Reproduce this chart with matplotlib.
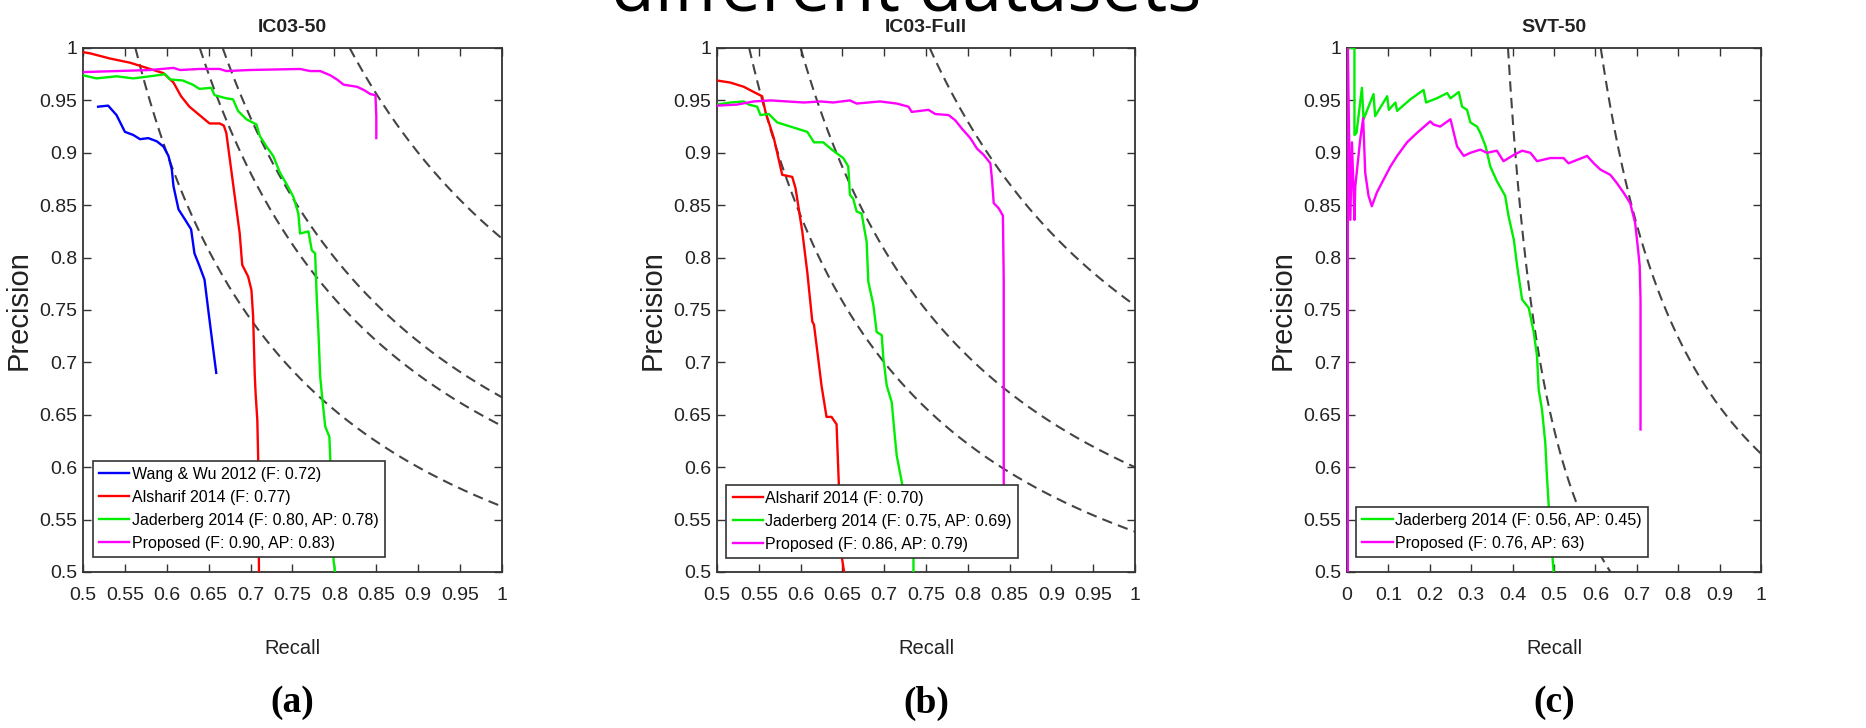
import numpy as np
import matplotlib.pyplot as plt
from matplotlib.ticker import FuncFormatter

plt.rcParams['font.family'] = ['Liberation Sans', 'DejaVu Sans']

# IC03-50
wang_r = [0.518, 0.530, 0.540, 0.550, 0.560, 0.568, 0.578, 0.588, 0.596, 0.602, 0.606,
          0.608, 0.614, 0.622, 0.629, 0.633, 0.639, 0.645, 0.649, 0.655, 0.659]
wang_p = [0.944, 0.945, 0.936, 0.920, 0.917, 0.913, 0.914, 0.911, 0.906, 0.897, 0.884,
          0.868, 0.846, 0.836, 0.827, 0.804, 0.792, 0.779, 0.753, 0.715, 0.690]
alsh_a_r = [0.500, 0.508, 0.532, 0.556, 0.576, 0.596, 0.608, 0.617, 0.627, 0.639, 0.651, 0.663,
            0.668, 0.671, 0.679, 0.687, 0.690, 0.697, 0.701, 0.703, 0.705, 0.706, 0.708, 0.709, 0.710]
alsh_a_p = [0.996, 0.995, 0.990, 0.986, 0.981, 0.976, 0.967, 0.954, 0.944, 0.936, 0.928, 0.928,
            0.926, 0.919, 0.871, 0.823, 0.793, 0.782, 0.769, 0.744, 0.687, 0.670, 0.645, 0.610, 0.499]
jad_a_r = [0.500, 0.516, 0.540, 0.560, 0.580, 0.598, 0.604, 0.619, 0.631, 0.639, 0.653, 0.657,
           0.671, 0.679, 0.685, 0.695, 0.707, 0.711, 0.719, 0.727, 0.735, 0.743, 0.751, 0.757,
           0.759, 0.769, 0.773, 0.777, 0.779, 0.781, 0.783, 0.785, 0.789, 0.794, 0.795, 0.799, 0.801]
jad_a_p = [0.974, 0.971, 0.973, 0.971, 0.973, 0.975, 0.970, 0.969, 0.965, 0.961, 0.962, 0.955,
           0.952, 0.951, 0.940, 0.932, 0.927, 0.916, 0.906, 0.897, 0.881, 0.870, 0.858, 0.842,
           0.823, 0.825, 0.807, 0.804, 0.760, 0.728, 0.687, 0.670, 0.639, 0.629, 0.610, 0.511, 0.499]
prop_a_r = [0.500, 0.540, 0.580, 0.608, 0.616, 0.639, 0.663, 0.671, 0.699, 0.759, 0.771,
            0.783, 0.795, 0.803, 0.811, 0.827, 0.835, 0.843, 0.849, 0.850, 0.850]
prop_a_p = [0.977, 0.978, 0.979, 0.981, 0.979, 0.980, 0.980, 0.978, 0.979, 0.980, 0.978,
            0.978, 0.974, 0.970, 0.965, 0.963, 0.960, 0.956, 0.955, 0.935, 0.914]
iso_a = [0.72, 0.78, 0.80, 0.90]

# IC03-Full
alsh_b_r = [0.500, 0.516, 0.532, 0.544, 0.554, 0.558, 0.568, 0.578, 0.590, 0.594, 0.602,
            0.608, 0.614, 0.616, 0.621, 0.625, 0.631, 0.637, 0.643, 0.645, 0.649, 0.652]
alsh_b_p = [0.969, 0.967, 0.963, 0.958, 0.954, 0.939, 0.914, 0.879, 0.877, 0.866, 0.825,
            0.786, 0.739, 0.736, 0.704, 0.678, 0.648, 0.648, 0.641, 0.599, 0.516, 0.500]
jad_b_r = [0.500, 0.516, 0.532, 0.538, 0.548, 0.552, 0.562, 0.572, 0.584, 0.596, 0.608,
           0.616, 0.627, 0.639, 0.651, 0.657, 0.659, 0.663, 0.667, 0.673, 0.679, 0.681,
           0.687, 0.691, 0.697, 0.699, 0.703, 0.709, 0.713, 0.715, 0.721, 0.735, 0.735]
jad_b_p = [0.946, 0.948, 0.949, 0.946, 0.944, 0.936, 0.937, 0.929, 0.926, 0.923, 0.920,
           0.910, 0.910, 0.902, 0.895, 0.887, 0.860, 0.856, 0.844, 0.842, 0.815, 0.777,
           0.755, 0.729, 0.726, 0.704, 0.678, 0.662, 0.627, 0.611, 0.586, 0.513, 0.500]
prop_b_r = [0.500, 0.524, 0.544, 0.564, 0.584, 0.604, 0.624, 0.639, 0.659, 0.667, 0.695,
            0.715, 0.729, 0.733, 0.753, 0.761, 0.777, 0.785, 0.793, 0.803, 0.811, 0.819,
            0.827, 0.829, 0.831, 0.837, 0.842, 0.843, 0.843]
prop_b_p = [0.945, 0.946, 0.949, 0.950, 0.949, 0.948, 0.949, 0.948, 0.950, 0.947, 0.949,
            0.947, 0.944, 0.939, 0.941, 0.937, 0.936, 0.931, 0.923, 0.914, 0.904, 0.898,
            0.890, 0.874, 0.852, 0.847, 0.840, 0.777, 0.570]
iso_b = [0.70, 0.75, 0.86]

# SVT-50
jad_c_r = [0.008, 0.018, 0.018, 0.023, 0.036, 0.040, 0.064, 0.068, 0.097, 0.101, 0.117,
           0.121, 0.153, 0.185, 0.191, 0.217, 0.242, 0.250, 0.270, 0.278, 0.290, 0.298,
           0.314, 0.322, 0.335, 0.346, 0.362, 0.382, 0.390, 0.403, 0.411, 0.423, 0.439,
           0.451, 0.459, 0.463, 0.471, 0.479, 0.483, 0.487, 0.499]
jad_c_p = [1.000, 1.000, 0.917, 0.919, 0.962, 0.932, 0.956, 0.935, 0.954, 0.941, 0.948,
           0.940, 0.951, 0.960, 0.948, 0.952, 0.957, 0.952, 0.958, 0.944, 0.941, 0.929,
           0.925, 0.919, 0.906, 0.887, 0.873, 0.859, 0.840, 0.817, 0.792, 0.760, 0.752,
           0.729, 0.706, 0.674, 0.655, 0.623, 0.591, 0.565, 0.500]
prop_c_r = [0.002, 0.002, 0.008, 0.012, 0.018, 0.020, 0.032, 0.039, 0.044, 0.052, 0.060,
            0.072, 0.089, 0.105, 0.121, 0.145, 0.169, 0.201, 0.209, 0.225, 0.250, 0.258,
            0.266, 0.282, 0.298, 0.322, 0.338, 0.362, 0.378, 0.403, 0.423, 0.443, 0.459,
            0.491, 0.523, 0.535, 0.580, 0.596, 0.612, 0.636, 0.652, 0.668, 0.684, 0.696,
            0.703, 0.707, 0.709, 0.709]
prop_c_p = [0.500, 1.000, 0.836, 0.910, 0.836, 0.868, 0.913, 0.933, 0.881, 0.859, 0.849,
            0.862, 0.875, 0.887, 0.897, 0.910, 0.919, 0.930, 0.927, 0.925, 0.932, 0.919,
            0.906, 0.897, 0.900, 0.903, 0.900, 0.902, 0.892, 0.898, 0.902, 0.900, 0.892,
            0.895, 0.895, 0.890, 0.897, 0.890, 0.884, 0.879, 0.871, 0.862, 0.852, 0.833,
            0.808, 0.792, 0.760, 0.636]
iso_c = [0.56, 0.76]

panels = [
    dict(title='IC03-50', tag='(a)', xlim=(0.5, 1), xticks=np.arange(0.5, 1.001, 0.05),
         iso=iso_a, legpos=(0.023, 0.028),
         series=[(wang_r, wang_p, '#0000ff', 'Wang & Wu 2012 (F: 0.72)'),
                 (alsh_a_r, alsh_a_p, '#ff0000', 'Alsharif 2014 (F: 0.77)'),
                 (jad_a_r, jad_a_p, '#00ee00', 'Jaderberg 2014 (F: 0.80, AP: 0.78)'),
                 (prop_a_r, prop_a_p, '#ff00ff', 'Proposed (F: 0.90, AP: 0.83)')]),
    dict(title='IC03-Full', tag='(b)', xlim=(0.5, 1), xticks=np.arange(0.5, 1.001, 0.05),
         iso=iso_b, legpos=(0.022, 0.026),
         series=[(alsh_b_r, alsh_b_p, '#ff0000', 'Alsharif 2014 (F: 0.70)'),
                 (jad_b_r, jad_b_p, '#00ee00', 'Jaderberg 2014 (F: 0.75, AP: 0.69)'),
                 (prop_b_r, prop_b_p, '#ff00ff', 'Proposed (F: 0.86, AP: 0.79)')]),
    dict(title='SVT-50', tag='(c)', xlim=(0, 1), xticks=np.arange(0, 1.001, 0.1),
         iso=iso_c, legpos=(0.022, 0.028),
         series=[(jad_c_r, jad_c_p, '#00ee00', 'Jaderberg 2014 (F: 0.56, AP: 0.45)'),
                 (prop_c_r, prop_c_p, '#ff00ff', 'Proposed (F: 0.76, AP: 63)')]),
]

W, H = 1866, 728
fig = plt.figure(figsize=(W / 100, H / 100), dpi=100)
boxes = [(83, 502), (717, 1135), (1347, 1761)]
top, bottom = 48, 572
fmt = FuncFormatter(lambda v, pos: '%g' % round(v, 2))

for (left, right), pan in zip(boxes, panels):
    ax = fig.add_axes([left / W, 1 - bottom / H, (right - left) / W, (bottom - top) / H])
    for f in pan['iso']:
        r = np.linspace(f / (2 - f), 1, 300)
        p = f * r / (2 * r - f)
        ax.plot(r, p, color='#444444', lw=1.5, dashes=(5, 3), zorder=1)
    for r, p, c, lab in pan['series']:
        ax.plot(r, p, color=c, lw=1.7, label=lab, zorder=3)
    ax.set_xlim(*pan['xlim'])
    ax.set_ylim(0.5, 1)
    ax.set_xticks(pan['xticks'])
    ax.set_yticks(np.arange(0.5, 1.001, 0.05))
    ax.xaxis.set_major_formatter(fmt)
    ax.yaxis.set_major_formatter(fmt)
    ax.tick_params(direction='in', top=True, right=True, length=6, width=1,
                   color='#333333', labelcolor='#222222', labelsize=14)
    ax.tick_params(axis='x', pad=11)
    ax.tick_params(axis='y', pad=4)
    for s in ax.spines.values():
        s.set_color('#333333')
        s.set_linewidth(1.3)
    leg = ax.legend(loc='lower left', bbox_to_anchor=pan['legpos'], borderaxespad=0,
                    fancybox=False, framealpha=1, edgecolor='#333333', fontsize=11.5,
                    handlelength=1.9, handletextpad=0.15, labelspacing=0.5, borderpad=0.4)
    leg.get_frame().set_linewidth(1.2)
    leg.set_zorder(5)

    cx = (left + right) / 2 / W
    fig.text(cx, 1 - 27 / H, pan['title'], ha='center', va='center', fontsize=14,
             fontweight='bold', color='#222222')
    fig.text(cx, 1 - 648 / H, 'Recall', ha='center', va='center', fontsize=14.5, color='#222222')
    fig.text((left - 64) / W, 1 - 310 / H, 'Precision', ha='center', va='center', rotation=90,
             fontsize=21, color='#222222')
    fig.text(cx, 1 - 703 / H, pan['tag'], ha='center', va='center', fontsize=27,
             fontweight='bold', family=['Liberation Serif', 'DejaVu Serif'])

fig.text(906 / W, 1 - 11 / H, 'different datasets', ha='center', va='baseline',
         fontsize=51.5, family=['Open Sans', 'DejaVu Sans'])

fig.savefig('out.png', dpi=100)
